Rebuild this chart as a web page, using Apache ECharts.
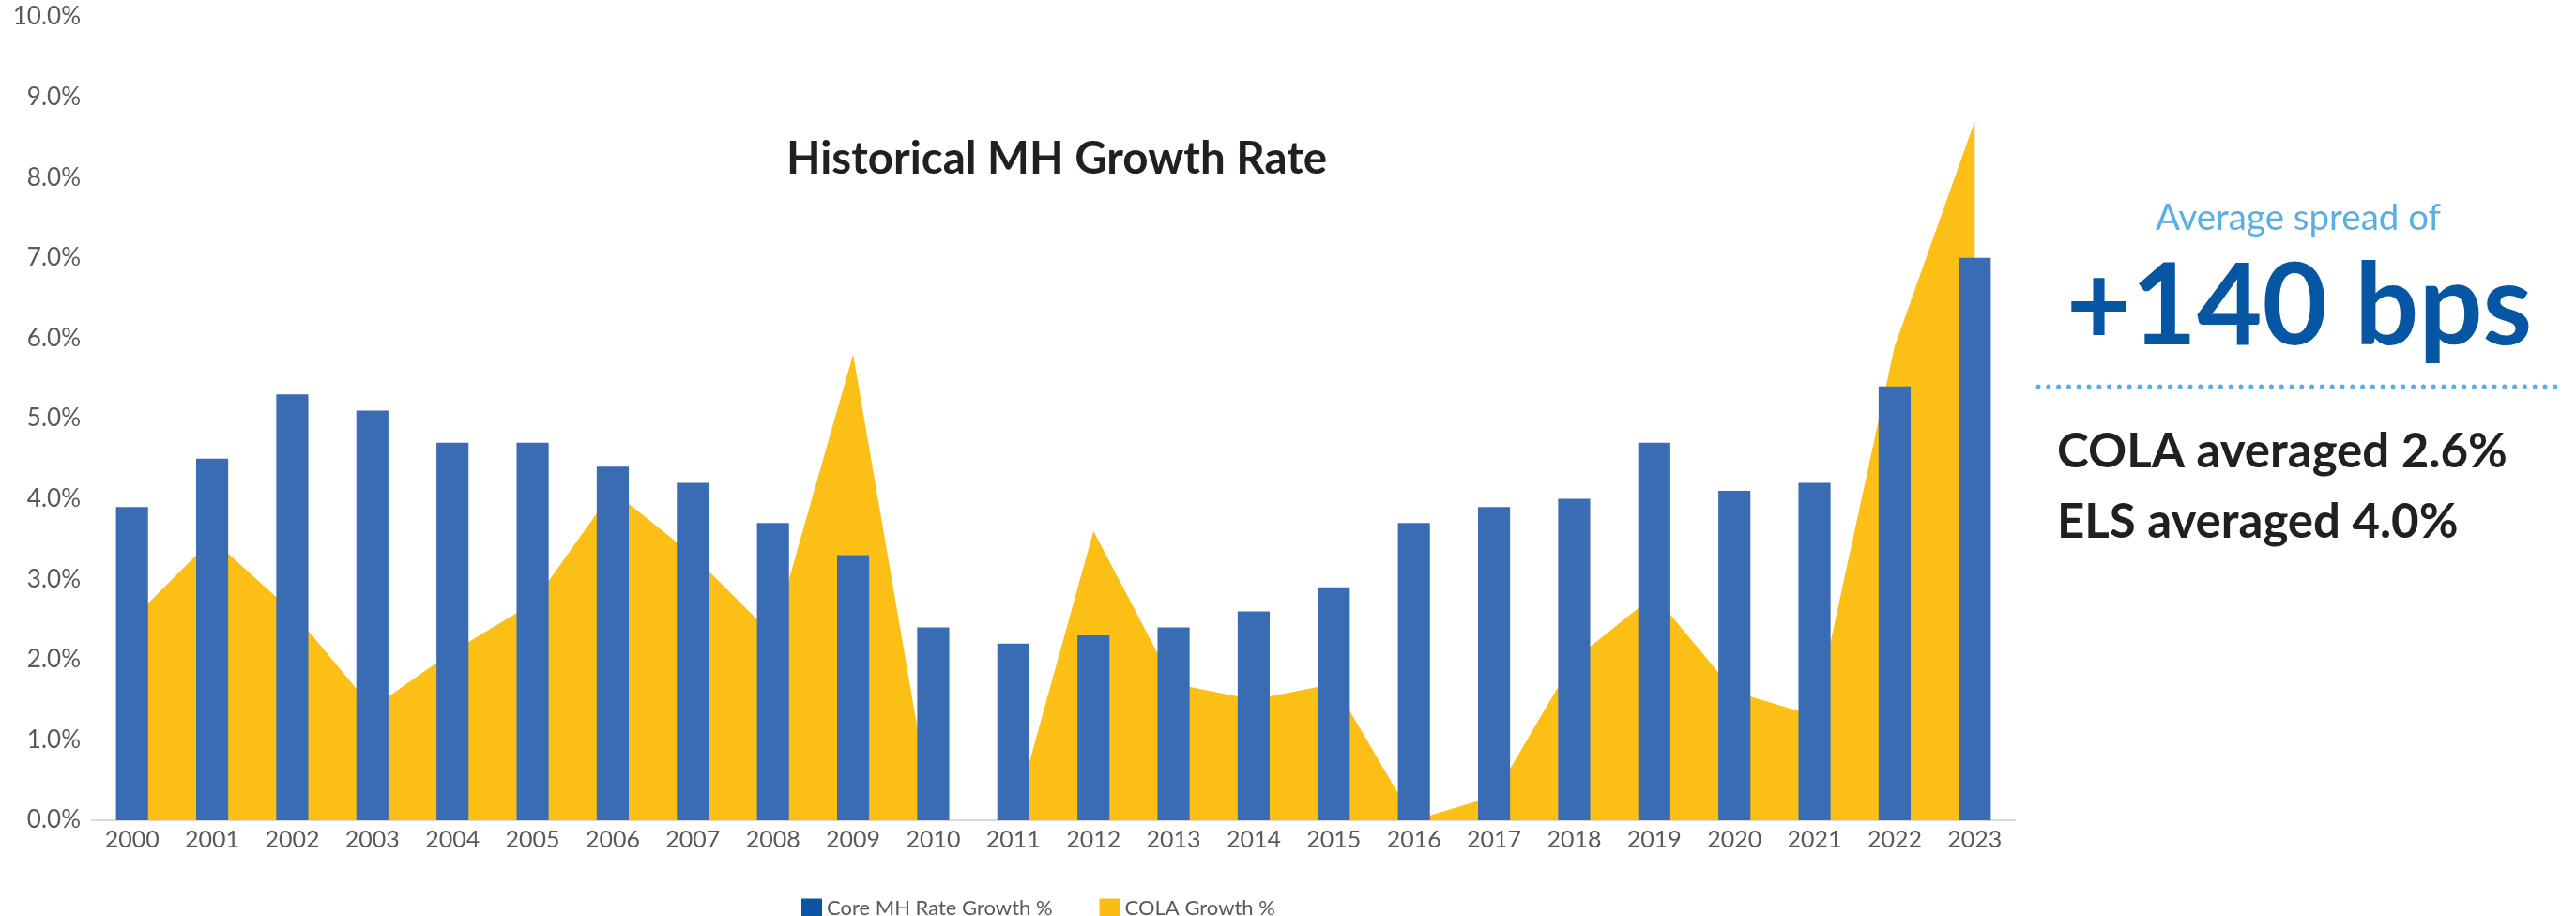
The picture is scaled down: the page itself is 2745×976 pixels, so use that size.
<!DOCTYPE html>
<html>
<head>
<meta charset="utf-8">
<script src="https://cdn.jsdelivr.net/npm/echarts@6/dist/echarts.min.js"></script>
<style>
  html, body { margin: 0; padding: 0; background: #fff; }
  #chart { width: 2745px; height: 976px; }
</style>
</head>
<body>
<div id="chart"></div>
<script>
const years = ['2000', '2001', '2002', '2003', '2004', '2005', '2006', '2007', '2008', '2009', '2010', '2011',
  '2012', '2013', '2014', '2015', '2016', '2017', '2018', '2019', '2020', '2021', '2022', '2023'];
const coreMhGrowth = [3.9, 4.5, 5.3, 5.1, 4.7, 4.7, 4.4, 4.2, 3.7, 3.3, 2.4, 2.2,
  2.3, 2.4, 2.6, 2.9, 3.7, 3.9, 4.0, 4.7, 4.1, 4.2, 5.4, 7.0];
const colaGrowth = [2.5, 3.5, 2.6, 1.4, 2.1, 2.7, 4.1, 3.3, 2.3, 5.8, 0, 0,
  3.6, 1.7, 1.5, 1.7, 0, 0.3, 2.0, 2.8, 1.6, 1.3, 5.9, 8.7];
const yTicks = { min: 0, max: 10, interval: 1 };
const seriesNames = ['Core MH Rate Growth %', 'COLA Growth %'];

const labelFont = 'Lato, "Open Sans", sans-serif';

const option = {
  animation: false,
  grid: {
    left: 98,
    right: 598,
    top: 18,
    bottom: 102
  },
  legend: {
    left: 849,
    top: 952,
    icon: 'rect',
    itemWidth: 22,
    itemHeight: 21,
    itemGap: 50,
    textStyle: {
      fontFamily: labelFont,
      fontSize: 22,
      color: '#595959'
    },
    data: [
      { name: seriesNames[0], itemStyle: { color: '#0B55A3' } },
      { name: seriesNames[1], itemStyle: { color: '#FBBC16' } }
    ]
  },
  xAxis: {
    type: 'category',
    data: years,
    boundaryGap: true,
    axisLine: { lineStyle: { color: '#D9D9D9', width: 2 } },
    axisTick: { length: 35, lineStyle: { color: '#D9D9D9', width: 2 } },
    axisLabel: {
      fontFamily: labelFont,
      fontSize: 25,
      color: '#595959',
      margin: 8,
      interval: 0
    }
  },
  yAxis: {
    type: 'value',
    min: yTicks.min,
    max: yTicks.max,
    interval: yTicks.interval,
    splitLine: { show: false },
    axisLine: { show: false },
    axisTick: { show: false },
    axisLabel: {
      fontFamily: labelFont,
      fontSize: 26,
      color: '#595959',
      margin: 12,
      formatter: v => v.toFixed(1) + '%'
    }
  },
  series: [
    {
      name: seriesNames[0],
      type: 'bar',
      data: coreMhGrowth,
      barWidth: '40%',
      z: 3,
      itemStyle: { color: '#3A6CB4' }
    },
    {
      name: seriesNames[1],
      type: 'line',
      data: colaGrowth,
      z: 1,
      symbol: 'none',
      lineStyle: { width: 0 },
      itemStyle: { color: '#FBBF15' },
      areaStyle: { color: '#FBBF15', opacity: 1 }
    }
  ],
  graphic: [
    {
      type: 'text',
      left: 838,
      top: 146,
      style: {
        text: 'Historical MH Growth Rate',
        font: 'bold 47.5px ' + labelFont,
        fill: '#231F20'
      }
    },
    {
      type: 'text',
      x: 2449,
      y: 252,
      style: {
        text: 'Average spread of',
        font: '400 38.5px ' + labelFont,
        fill: '#5BAEE3',
        align: 'center',
        verticalAlign: 'bottom'
      }
    },
    {
      type: 'text',
      x: 2450,
      y: 388,
      style: {
        text: '+140 bps',
        font: 'bold 120px ' + labelFont,
        fill: '#0756A3',
        align: 'center',
        verticalAlign: 'bottom'
      }
    },
    {
      type: 'line',
      shape: { x1: 2172, y1: 412, x2: 2729, y2: 412 },
      style: {
        stroke: '#5BAEE3',
        lineWidth: 5,
        lineCap: 'round',
        lineDash: [0, 10.8]
      }
    },
    {
      type: 'text',
      x: 2192,
      y: 507,
      style: {
        text: 'COLA averaged 2.6%',
        font: 'bold 51px ' + labelFont,
        fill: '#231F20',
        verticalAlign: 'bottom'
      }
    },
    {
      type: 'text',
      x: 2192,
      y: 582,
      style: {
        text: 'ELS averaged 4.0%',
        font: 'bold 51px ' + labelFont,
        fill: '#231F20',
        verticalAlign: 'bottom'
      }
    }
  ]
};

const chart = echarts.init(document.getElementById('chart'));
chart.setOption(option);
</script>
</body>
</html>
